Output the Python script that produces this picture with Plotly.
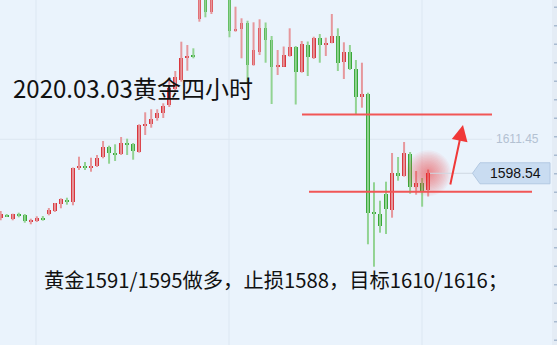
import plotly.graph_objects as go

# ---------------- data (4h gold candles) ----------------
open_ = [1581.45, 1582.82, 1581.30, 1583.08, 1582.70, 1580.31, 1580.54, 1581.45, 1583.08, 1584.22,
         1586.88, 1588.29, 1587.75, 1600.55, 1601.20, 1600.55, 1601.20, 1604.61, 1608.64, 1606.36,
         1605.87, 1610.16, 1609.78, 1606.63, 1616.76, 1617.14, 1619.42, 1621.55, 1624.47, 1630.55,
         1633.96, 1642.58, 1643.08, 1657.13, 1667.00, 1659.90, 1670.00, 1675.00, 1666.00, 1652.57,
         1653.21, 1655.72, 1639.66, 1644.60, 1653.82, 1649.15, 1638.90, 1639.09, 1643.08, 1646.61,
         1636.89, 1647.25, 1642.20, 1650.03, 1647.37, 1648.13, 1650.67, 1640.91, 1644.71, 1638.03,
         1627.39, 1628.65, 1583.58, 1583.08, 1590.68, 1584.72, 1598.65, 1597.40, 1605.87, 1593.34,
         1594.85, 1592.20]
high = [1584.22, 1583.08, 1583.20, 1583.58, 1583.08, 1581.30, 1582.21, 1582.32, 1585.36, 1587.26,
        1589.04, 1589.27, 1600.74, 1604.84, 1602.83, 1604.46, 1605.49, 1610.80, 1609.02, 1609.55,
        1612.32, 1611.68, 1610.04, 1617.14, 1621.70, 1622.84, 1622.84, 1625.12, 1634.72, 1637.38,
        1648.51, 1647.25, 1646.00, 1672.00, 1670.00, 1672.00, 1679.00, 1680.00, 1670.00, 1661.80,
        1657.39, 1656.48, 1655.87, 1657.01, 1655.80, 1650.67, 1645.35, 1646.68, 1653.59, 1646.87,
        1648.77, 1648.58, 1650.40, 1651.43, 1650.03, 1659.02, 1653.59, 1648.28, 1647.25, 1641.56,
        1640.53, 1629.14, 1595.12, 1588.13, 1595.35, 1606.25, 1604.73, 1610.42, 1606.63, 1599.41,
        1596.75, 1599.98]
low = [1580.69, 1581.95, 1580.69, 1581.83, 1579.78, 1579.17, 1580.05, 1580.54, 1582.59, 1583.84,
       1585.25, 1586.62, 1586.39, 1599.79, 1599.79, 1599.14, 1600.93, 1604.23, 1602.18, 1603.21,
       1605.49, 1605.49, 1603.70, 1606.36, 1613.08, 1615.85, 1618.51, 1619.54, 1623.71, 1629.41,
       1633.32, 1637.49, 1642.20, 1656.10, 1657.77, 1659.02, 1666.00, 1667.00, 1650.18, 1652.30,
       1642.20, 1632.71, 1639.39, 1643.46, 1640.53, 1624.85, 1635.86, 1639.01, 1642.81, 1624.66,
       1636.74, 1635.48, 1641.94, 1640.53, 1643.08, 1647.90, 1637.38, 1634.34, 1637.76, 1621.05,
       1623.45, 1571.58, 1563.07, 1575.98, 1575.49, 1581.68, 1595.73, 1597.25, 1590.79, 1590.41,
       1585.86, 1589.73]
close = [1582.97, 1582.21, 1582.97, 1582.21, 1580.43, 1580.81, 1581.68, 1581.07, 1584.60, 1587.15,
         1588.67, 1587.75, 1600.44, 1601.42, 1600.66, 1601.42, 1604.46, 1608.64, 1606.36, 1605.75,
         1610.04, 1609.55, 1607.01, 1616.99, 1617.37, 1619.27, 1621.55, 1624.09, 1630.93, 1635.10,
         1642.43, 1643.08, 1642.70, 1668.00, 1659.90, 1668.00, 1675.00, 1668.50, 1652.68, 1653.06,
         1655.72, 1639.66, 1645.35, 1653.82, 1649.15, 1639.01, 1639.39, 1643.46, 1646.61, 1636.89,
         1647.52, 1642.81, 1650.03, 1647.25, 1648.01, 1650.67, 1640.30, 1644.71, 1638.03, 1627.51,
         1628.53, 1583.58, 1583.20, 1578.64, 1584.98, 1598.65, 1597.63, 1606.25, 1593.34, 1594.85,
         1591.55, 1598.54]

last_price = 1598.54
grid_price = 1611.45
resist_level = 1620.9
support_level = 1591.5

title_text = "2020.03.03黄金四小时"
plan_text = "黄金1591/1595做多，止损1588，目标1610/1616；"

# ---------------- style ----------------
W, H = 557, 345
X_RANGE = [-0.116, 92.4]
Y_RANGE = [1533.34, 1664.34]
BG = "#eaf3fc"
UP_BODY, UP_WICK = "#d9363d", "#e6979c"
DN_BODY, DN_WICK = "#38a838", "#92d392"
LEVEL_RED = "#f15656"
CJK = "Noto Sans CJK SC"

idx = list(range(len(open_)))
is_up = [c >= o for o, c in zip(open_, close)]

fig = go.Figure()

# wicks
for up, col in ((True, UP_WICK), (False, DN_WICK)):
    xs, ys = [], []
    for i in idx:
        if is_up[i] == up:
            xs += [i, i, None]
            ys += [low[i], high[i], None]
    fig.add_trace(go.Scatter(x=xs, y=ys, mode="lines", line=dict(color=col, width=2),
                             hoverinfo="skip", showlegend=False))

# bodies
base = [min(o, c) for o, c in zip(open_, close)]
size = [max(abs(c - o), 0.45) for o, c in zip(open_, close)]
fig.add_trace(go.Bar(x=idx, y=size, base=base, width=0.62,
                     marker=dict(color=[UP_BODY if u else DN_BODY for u in is_up], line=dict(width=0)),
                     showlegend=False, hoverinfo="skip"))

# soft glow on the last candle
glow_sizes = list(range(46, 4, -3))
for s in glow_sizes:
    fig.add_trace(go.Scatter(x=[idx[-1]], y=[last_price], mode="markers",
                             marker=dict(size=s, color="rgba(255,50,50,0.045)", line=dict(width=0)),
                             hoverinfo="skip", showlegend=False))

shapes = []
# grid
for px in (36, 229, 422):
    shapes.append(dict(type="line", xref="paper", yref="paper", x0=px / W, x1=px / W, y0=0, y1=1,
                       line=dict(color="#dce7f2", width=1), layer="below"))
shapes.append(dict(type="line", xref="paper", yref="y", x0=0, x1=492 / W, y0=grid_price, y1=grid_price,
                   line=dict(color="#dce6f0", width=1), layer="below"))
# last price line
shapes.append(dict(type="line", xref="paper", yref="y", x0=430 / W, x1=474 / W, y0=last_price, y1=last_price,
                   line=dict(color="#cfd8e2", width=1)))
# red levels
shapes.append(dict(type="line", xref="paper", yref="y", x0=302 / W, x1=492 / W, y0=resist_level, y1=resist_level,
                   line=dict(color=LEVEL_RED, width=2)))
shapes.append(dict(type="line", xref="paper", yref="y", x0=309 / W, x1=532 / W, y0=support_level, y1=support_level,
                   line=dict(color=LEVEL_RED, width=2)))
# price label box
hh = 10.5 * (Y_RANGE[1] - Y_RANGE[0]) / H
tip, left, right = 472.5 / W, 480 / W, 550 / W
path = (f"M {tip},{last_price} L {left},{last_price + hh} L {right},{last_price + hh} "
        f"L {right},{last_price - hh} L {left},{last_price - hh} Z")
shapes.append(dict(type="path", xref="paper", yref="y", path=path,
                   fillcolor="#c9dcf1", line=dict(color="#b3c9e2", width=1)))
# right axis strip
shapes.append(dict(type="rect", xref="paper", yref="paper", x0=552 / W, x1=1, y0=0, y1=1,
                   fillcolor="#e4ecf5", line=dict(width=0)))
for k in range(19):
    py = 6.5 + 18.5 * k
    shapes.append(dict(type="rect", xref="paper", yref="paper", x0=554 / W, x1=1,
                       y0=1 - (py + 1.5) / H, y1=1 - py / H, fillcolor="#a9bbd0", line=dict(width=0)))

annotations = [
    dict(text=title_text, xref="paper", yref="paper", x=11 / W, y=1 - 88 / H, xanchor="left",
         yanchor="middle", showarrow=False, font=dict(family=CJK, size=24, color="#111111")),
    dict(text=plan_text, xref="paper", yref="paper", x=42 / W, y=1 - 279 / H, xanchor="left",
         yanchor="middle", showarrow=False, font=dict(family=CJK, size=20.3, color="#111111")),
    dict(text=f"{last_price:.2f}", xref="paper", yref="y", x=515 / W, y=last_price, xanchor="center",
         yanchor="middle", showarrow=False, font=dict(family="Liberation Sans, Arial", size=14, color="#111111")),
    dict(text=f"{grid_price:.2f}", xref="paper", yref="y", x=517 / W, y=grid_price, xanchor="center",
         yanchor="middle", showarrow=False, font=dict(family="Liberation Sans, Arial", size=12, color="#b3c1d2")),
    dict(text="", xref="paper", yref="paper", x=463 / W, y=1 - 125 / H, ax=-13, ay=61,
         showarrow=True, arrowhead=2, arrowsize=1.6, arrowwidth=2, arrowcolor="#f03838", standoff=0),
]

fig.update_layout(
    width=W, height=H, margin=dict(l=0, r=0, t=0, b=0),
    paper_bgcolor=BG, plot_bgcolor=BG, bargap=0,
    xaxis=dict(range=X_RANGE, visible=False, fixedrange=True),
    yaxis=dict(range=Y_RANGE, visible=False, fixedrange=True),
    shapes=shapes, annotations=annotations, showlegend=False,
)

fig.write_html("out.html")
